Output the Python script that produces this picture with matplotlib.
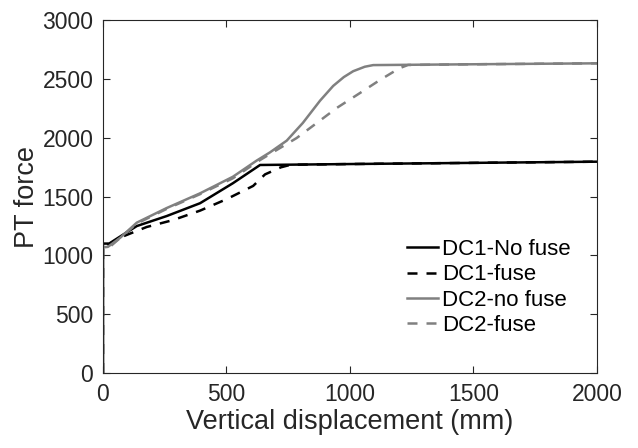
import matplotlib
matplotlib.use('Agg')
import matplotlib.pyplot as plt

plt.rcParams['font.family'] = ['Liberation Sans', 'DejaVu Sans']

# DC1 - no fuse (black solid)
dc1_nf_x = [0, 0, 25, 68, 137, 258, 393, 526, 636, 1000, 1500, 2000]
dc1_nf_y = [0, 1100, 1100, 1158, 1249, 1334, 1443, 1613, 1768, 1776, 1786, 1796]

# DC1 - fuse (black dashed)
dc1_f_x = [0, 0, 25, 68, 177, 284, 393, 501, 608, 656, 720, 760, 1000, 1500, 2000]
dc1_f_y = [0, 1095, 1095, 1150, 1241, 1300, 1380, 1478, 1590, 1688, 1748, 1770, 1776, 1786, 1796]

# DC2 - no fuse (grey solid)
dc2_nf_x = [0, 0, 20, 70, 137, 258, 393, 526, 622, 676, 744, 809, 879, 932, 975, 1013, 1060, 1094, 1500, 2000]
dc2_nf_y = [0, 1068, 1072, 1150, 1278, 1402, 1527, 1668, 1805, 1875, 1975, 2125, 2315, 2440, 2515, 2565, 2603, 2617, 2624, 2632]

# DC2 - fuse (grey dashed)
dc2_f_x = [0, 0, 20, 137, 258, 393, 526, 636, 703, 784, 865, 946, 1040, 1121, 1200, 1235, 1500, 2000]
dc2_f_y = [0, 1050, 1058, 1270, 1395, 1520, 1655, 1810, 1895, 1997, 2124, 2252, 2379, 2490, 2590, 2618, 2624, 2632]

grey = (0.5, 0.5, 0.5)
dash = (4, 3.6)

fig = plt.figure(figsize=(6.38, 4.48), dpi=100)
ax = fig.add_axes([0.1614, 0.1674, 0.7743, 0.7879])

ax.plot(dc1_nf_x, dc1_nf_y, color='black', lw=1.8, label='DC1-No fuse')
ax.plot(dc1_f_x, dc1_f_y, color='black', lw=1.8, dashes=dash, label='DC1-fuse')
ax.plot(dc2_nf_x, dc2_nf_y, color=grey, lw=1.8, label='DC2-no fuse')
ax.plot(dc2_f_x, dc2_f_y, color=grey, lw=1.8, dashes=dash, label='DC2-fuse')

ax.set_xlim(0, 2000)
ax.set_ylim(0, 3000)
ax.set_xticks([0, 500, 1000, 1500, 2000])
ax.set_yticks(range(0, 3001, 500))
ax.tick_params(direction='in', top=True, right=True, length=5, width=0.8,
               labelsize=16.5, pad=7, colors='#262626')
for s in ax.spines.values():
    s.set_color('#262626')
    s.set_linewidth(0.8)

ax.set_xlabel('Vertical displacement (mm)', fontsize=19.5, labelpad=2.5, color='#262626')
ax.set_ylabel('PT force', fontsize=19.5, labelpad=1.5, color='#262626')

ax.legend(loc='upper left', bbox_to_anchor=(0.615, 0.38), frameon=False, fontsize=16,
          handlelength=1.4, handletextpad=0.2, labelspacing=0.2,
          borderpad=0, borderaxespad=0)

fig.savefig('out.png', dpi=100)
